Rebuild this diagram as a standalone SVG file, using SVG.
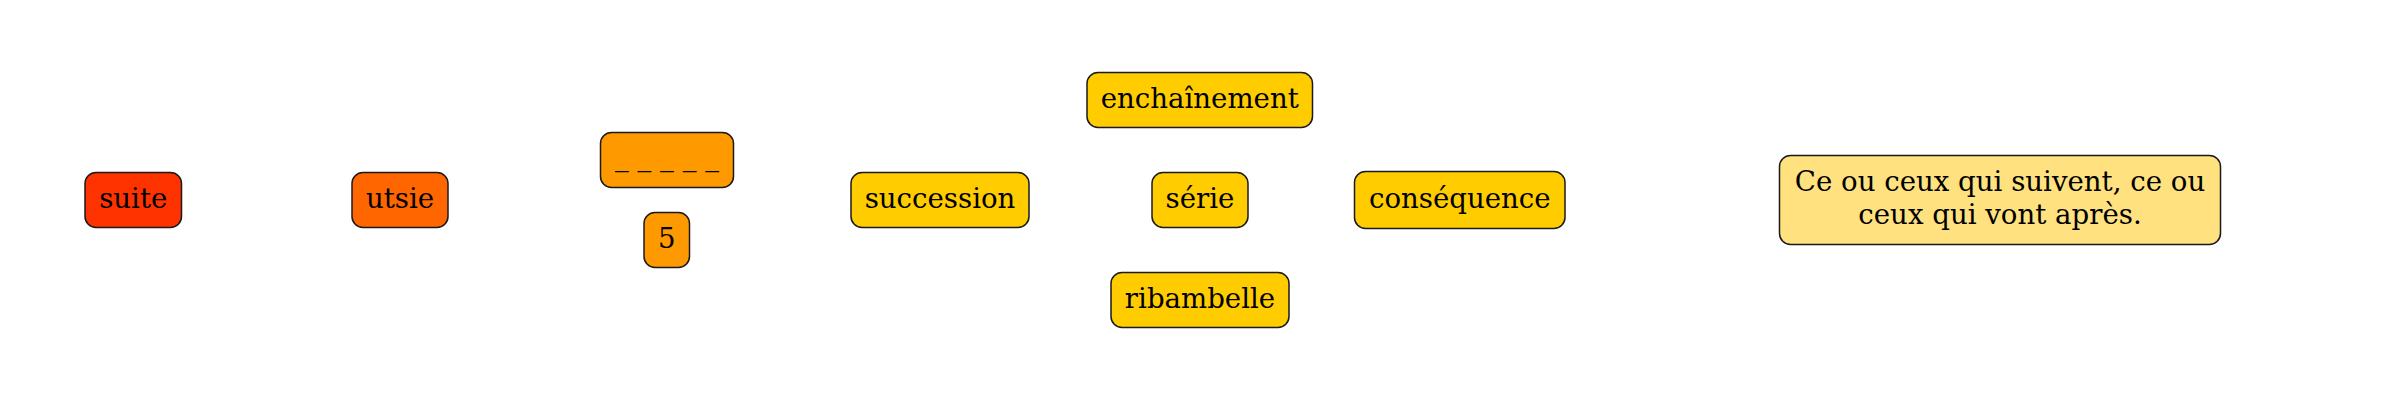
<svg xmlns="http://www.w3.org/2000/svg" width="2400" height="400" viewBox="0 0 2400 400">
<style>
.box{stroke:#1a1a1a;stroke-width:1.5}
.t{font-family:"DejaVu Serif","Liberation Serif",serif;font-size:27.6px;fill:#000;text-anchor:middle}
.red{fill:#FF3300}
.org{fill:#FF6600}
.amb{fill:#FF9900}
.yel{fill:#FFCC00}
.pale{fill:#FFE17F}
</style>
<rect width="2400" height="400" fill="#fff"/>
<g id="connectors"/>
<g id="suite"><rect class="box red" x="85" y="172.5" width="96.5" height="55" rx="11"/><text class="t" x="133.25" y="208">suite</text></g>
<g id="utsie"><rect class="box org" x="352" y="172.5" width="96" height="55" rx="11"/><text class="t" x="400" y="208">utsie</text></g>
<g id="blank"><rect class="box amb" x="600.5" y="132.5" width="133" height="55" rx="11"/><text class="t" x="667" y="166">_ _ _ _ _</text></g>
<g id="five"><rect class="box amb" x="644" y="212.5" width="45.5" height="55" rx="11"/><text class="t" x="666.75" y="248">5</text></g>
<g id="succession"><rect class="box yel" x="851" y="172.5" width="178" height="55" rx="11"/><text class="t" x="940" y="208">succession</text></g>
<g id="enchainement"><rect class="box yel" x="1087" y="72.5" width="225.5" height="55" rx="11"/><text class="t" x="1199.75" y="108">enchaînement</text></g>
<g id="serie"><rect class="box yel" x="1152" y="172.5" width="96" height="55" rx="11"/><text class="t" x="1200" y="208">série</text></g>
<g id="ribambelle"><rect class="box yel" x="1111" y="272.5" width="178" height="55" rx="11"/><text class="t" x="1200" y="308">ribambelle</text></g>
<g id="consequence"><rect class="box yel" x="1354.5" y="171.5" width="210.5" height="57" rx="11"/><text class="t" x="1459.75" y="208">conséquence</text></g>
<g id="definition"><rect class="box pale" x="1779.5" y="155.5" width="441" height="89" rx="11"/><text class="t" x="2000" y="190.5">Ce ou ceux qui suivent, ce ou</text><text class="t" x="2000" y="224">ceux qui vont après.</text></g>
</svg>
